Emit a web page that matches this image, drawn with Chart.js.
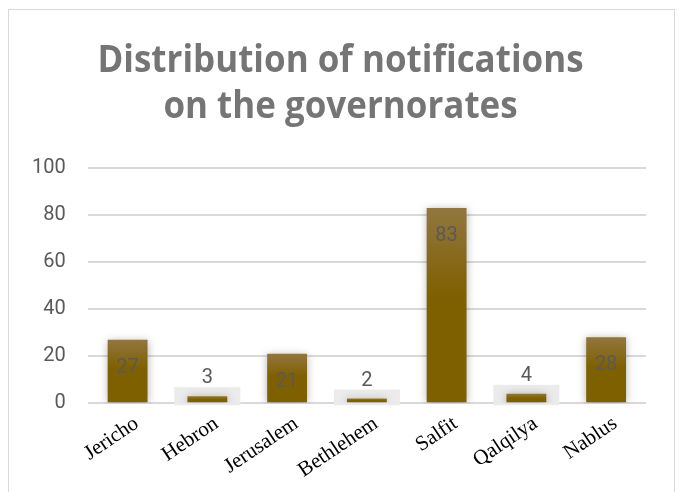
<!DOCTYPE html>
<html>
<head>
<meta charset="utf-8">
<script src="https://cdn.jsdelivr.net/npm/chart.js@4"></script>
<style>
  html, body { margin: 0; padding: 0; background: #fff; }
  #box {
    position: absolute; left: 8px; top: 9px; width: 667px; height: 490px;
    border: 1.5px solid #d9d9d9; box-sizing: border-box;
  }
  #wrap { position: absolute; left: 0; top: 0; width: 664px; height: 487px; }
</style>
</head>
<body>
<div id="box"><div id="wrap"><canvas id="graph"></canvas></div></div>
<script>
const governorates = ['Jericho', 'Hebron', 'Jerusalem', 'Bethlehem', 'Salfit', 'Qalqilya', 'Nablus'];
const notifications = [27, 3, 21, 2, 83, 4, 28];
const yTicks = [0, 20, 40, 60, 80, 100];
const titleLines = ['Distribution of notifications', 'on the governorates'];

function barGradient(context) {
    const chart = context.chart;
    const y = chart.scales.y;
    if (!y || !context.parsed) return '#7f6000';
    const top = y.getPixelForValue(context.parsed.y);
    const bottom = y.getPixelForValue(0);
    if (!isFinite(top) || !isFinite(bottom) || top === bottom) return '#7f6000';
    const g = chart.ctx.createLinearGradient(0, top, 0, bottom);
    g.addColorStop(0, '#927640');
    g.addColorStop(0.45, '#7f6000');
    g.addColorStop(1, '#7f6000');
    return g;
}

// narrow bold title, drawn by hand so it can be squeezed a bit
const narrowTitle = {
    id: 'narrowTitle',
    afterDraw(chart) {
        const ctx = chart.ctx;
        ctx.save();
        ctx.font = 'bold 38px "Open Sans", sans-serif';
        ctx.fillStyle = '#757575';
        ctx.textAlign = 'center';
        ctx.textBaseline = 'alphabetic';
        const cx = 331.5;
        [61.5, 107.5].forEach((by, i) => {
            ctx.save();
            ctx.translate(cx, by);
            ctx.scale(0.92, 1);
            ctx.fillText(titleLines[i], 0, 0);
            ctx.restore();
        });
        ctx.restore();
    }
};

// data labels: inside bar for tall ones, above with grey box for small ones
const valueLabels = {
    id: 'valueLabels',
    beforeDatasetsDraw(chart) {
        const ctx = chart.ctx;
        const meta = chart.getDatasetMeta(0);
        ctx.save();
        meta.data.forEach((bar, i) => {
            if (notifications[i] < 10) {
                ctx.fillStyle = '#ebebeb';
                ctx.fillRect(bar.x - 33, bar.y - 9, 66, bar.base - bar.y + 12);
            }
        });
        ctx.restore();
    },
    beforeDatasetDraw(chart) {
        const ctx = chart.ctx;
        ctx.save();
        ctx.shadowColor = 'rgba(0, 0, 0, 0.3)';
        ctx.shadowBlur = 8;
        ctx.shadowOffsetY = 1;
    },
    afterDatasetDraw(chart) {
        chart.ctx.restore();
    },
    afterDatasetsDraw(chart) {
        const ctx = chart.ctx;
        const meta = chart.getDatasetMeta(0);
        ctx.save();
        ctx.font = '20px Roboto, "Open Sans", sans-serif';
        ctx.fillStyle = '#595959';
        ctx.textAlign = 'center';
        ctx.textBaseline = 'middle';
        meta.data.forEach((bar, i) => {
            const v = notifications[i];
            const ty = v < 10 ? bar.y - 18 : bar.y + 28;
            ctx.fillText(String(v), bar.x, ty);
        });
        ctx.restore();
    }
};

const graph = new Chart(document.getElementById('graph'), {
    type: 'bar',
    data: {
        labels: governorates,
        datasets: [{
            label: 'Notifications',
            data: notifications,
            backgroundColor: barGradient,
            barPercentage: 0.5,
            categoryPercentage: 1.0
        }]
    },
    options: {
        responsive: true,
        maintainAspectRatio: false,
        animation: false,
        devicePixelRatio: 1,
        layout: { padding: { left: 1, right: 27, top: 158, bottom: 14 } },
        plugins: {
            legend: { display: false },
            tooltip: { enabled: false },
            title: { display: false }
        },
        scales: {
            x: {
                grid: { display: false },
                border: { display: false },
                ticks: {
                    color: '#000',
                    font: { family: '"Liberation Serif", "Times New Roman", serif', size: 21 },
                    minRotation: 34,
                    maxRotation: 34,
                    labelOffset: 9,
                    padding: 0
                }
            },
            y: {
                min: 0,
                max: 100,
                afterBuildTicks(axis) { axis.ticks = yTicks.map(v => ({ value: v })); },
                grid: { color: '#d9d9d9', lineWidth: 2, drawTicks: false },
                border: { display: false },
                ticks: {
                    color: '#595959',
                    font: { family: 'Roboto, "Open Sans", sans-serif', size: 20 },
                    padding: 22
                }
            }
        }
    },
    plugins: [valueLabels, narrowTitle]
});
</script>
</body>
</html>
